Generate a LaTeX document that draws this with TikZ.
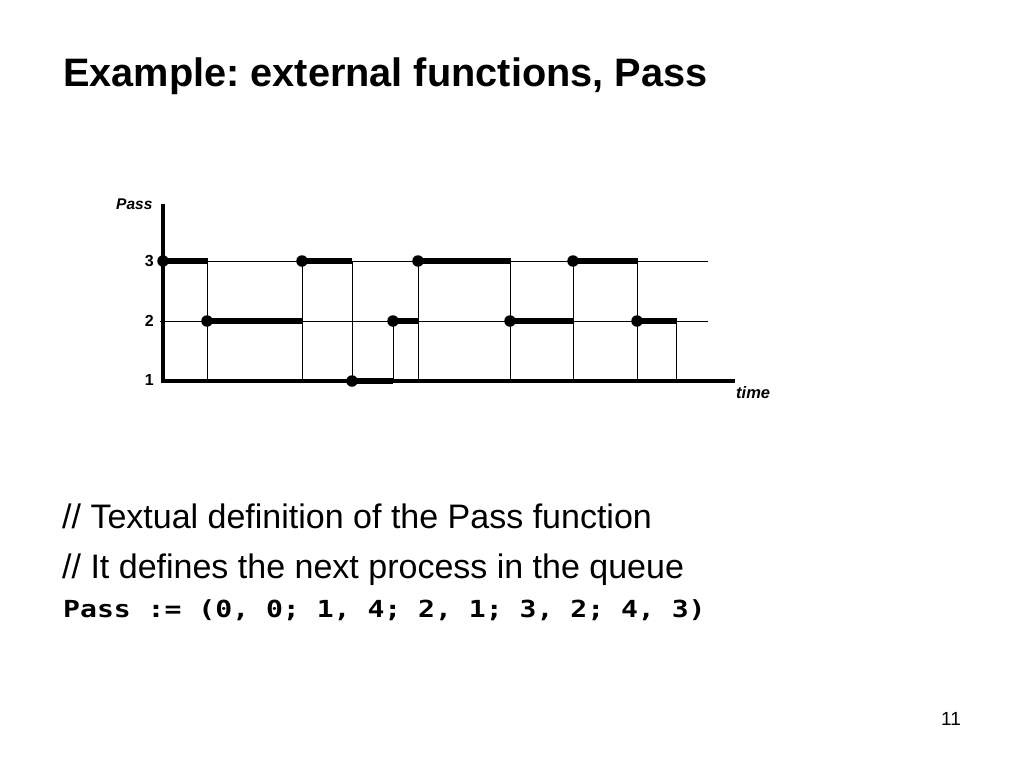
\documentclass[tikz,border=0pt]{standalone}
\usepackage{graphicx}
\usepackage{fontspec}
\setmainfont{Liberation Sans}
\newfontfamily\codefont{DejaVu Sans Mono}
\frenchspacing
\begin{document}
\begin{tikzpicture}[x=1pt,y=-1pt,
  thin line/.style={line width=1pt,black},
  thick seg/.style={line width=6pt,black},
  axisline/.style={line width=3.2pt,black},
  dotmark/.style={circle,fill=black,inner sep=0pt,minimum size=11.5pt},
  txt/.style={anchor=base west,inner sep=0pt},
  lab/.style={inner sep=0pt,font=\fontsize{16}{18}\selectfont\bfseries}]
\useasboundingbox (0,0) rectangle (1024,768);
% text
\node[txt,font=\fontsize{39.7}{46}\selectfont\bfseries] (title) at (63,86.5) {Example: external functions, Pass};
\node[txt,font=\fontsize{34}{38}\selectfont] (l1) at (62,528.3) {// Textual definition of the Pass function};
\node[txt,font=\fontsize{34}{38}\selectfont] (l2) at (62,578) {// It defines the next process in the queue};
\node[txt,font=\fontsize{23.5}{28}\selectfont\codefont\bfseries] (l3) at (63,617.5) {\scalebox{1.195}[1]{Pass := (0, 0; 1, 4; 2, 1; 3, 2; 4, 3)}};
\node[txt,font=\fontsize{19}{22}\selectfont] (pg) at (941,725) {11};
% axis labels
\node[lab,anchor=base west,font=\fontsize{15.5}{18}\selectfont\bfseries\itshape] (ylab) at (116,209) {Pass};
\node[lab,anchor=base west,font=\fontsize{16.5}{18}\selectfont\bfseries\itshape] (xlab) at (736,398) {time};
\node[lab,anchor=east] (n3) at (154,261) {3};
\node[lab,anchor=east] (n2) at (154,321) {2};
\node[lab,anchor=east] (n1) at (154,380) {1};
% grid
\draw[thin line] (160,261) -- (708,261);
\draw[thin line] (160,321) -- (708,321);
% verticals
\foreach \x in {207,302,352,418,510,573,637} \draw[thin line] (\x,261) -- (\x,381);
\foreach \x in {393,676} \draw[thin line] (\x,321) -- (\x,381);
% axes
\draw[axisline] (163,204) -- (163,381) -- (735,381);
% thick segments
\draw[thick seg] (163,261) -- (208,261);
\draw[thick seg] (207,321) -- (302,321);
\draw[thick seg] (302,261) -- (352,261);
\draw[thick seg] (352,381) -- (393,381);
\draw[thick seg] (393,321) -- (418,321);
\draw[thick seg] (418,261) -- (511,261);
\draw[thick seg] (510,321) -- (574,321);
\draw[thick seg] (573,261) -- (638,261);
\draw[thick seg] (637,321) -- (677,321);
% dots
\foreach \x/\y [count=\i] in {163/261,207/321,302/261,352/381,393/321,418/261,510/321,573/261,637/321}
  \node[dotmark] (d\i) at (\x,\y) {};
\end{tikzpicture}
\end{document}
